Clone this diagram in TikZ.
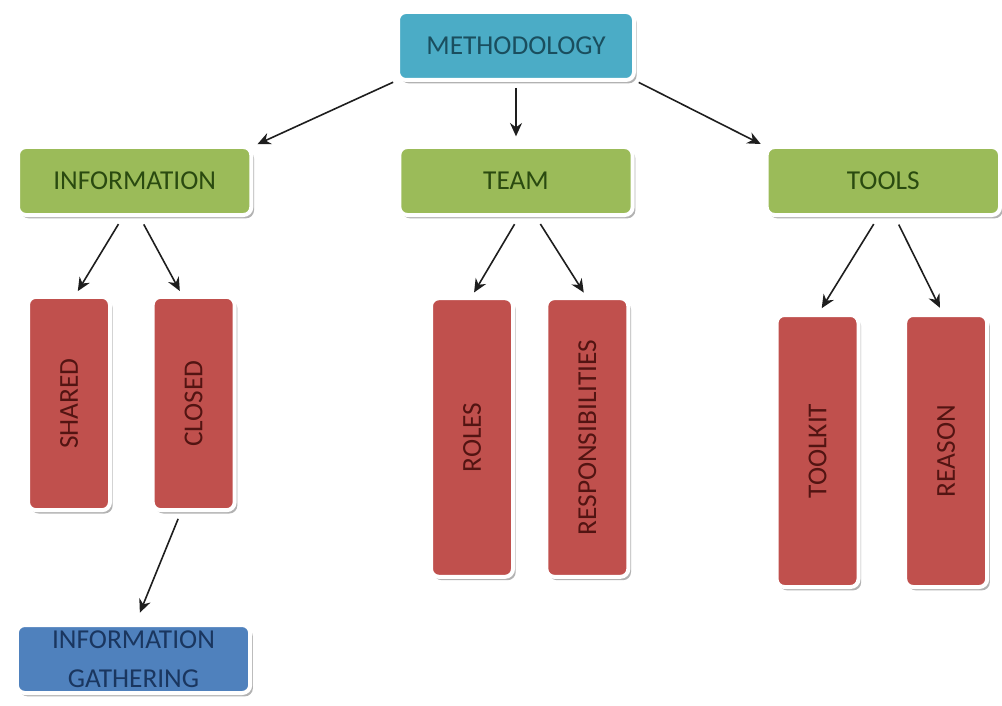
\documentclass[tikz,border=0pt]{standalone}
\usepackage{fontspec}
\setmainfont{Carlito}
\usepackage{graphicx}
\usetikzlibrary{arrows.meta, positioning, shadows}
\definecolor{rootfill}{HTML}{4BACC6}
\definecolor{roottext}{HTML}{1A4E5E}
\definecolor{groupfill}{HTML}{9BBB59}
\definecolor{grouptext}{HTML}{2A4A10}
\definecolor{leaffill}{HTML}{C0504D}
\definecolor{leaftext}{HTML}{521412}
\definecolor{gatherfill}{HTML}{4F81BD}
\definecolor{gathertext}{HTML}{1A365F}
\definecolor{linkgray}{HTML}{1E1E1E}

\begin{document}
\begin{tikzpicture}[
    x=0.75pt, y=-0.75pt,
    >=Stealth,
    every node/.style={inner sep=0pt, outer sep=0pt},
    boxbase/.style={
        draw=white, line width=3pt, rounded corners=6pt,
        drop shadow={shadow xshift=2pt, shadow yshift=-2.5pt, fill=black, opacity=0.3},
        font=\fontsize{20.5}{29}\selectfont, align=center
    },
    rootbox/.style={
        boxbase, fill=rootfill, text=roottext,
        minimum width=177pt, minimum height=51pt
    },
    groupbox/.style={
        boxbase, fill=groupfill, text=grouptext,
        minimum width=175pt, minimum height=51pt
    },
    leafbox/.style={
        boxbase, fill=leaffill, text=leaftext,
        minimum width=61.5pt
    },
    gatherbox/.style={
        boxbase, fill=gatherfill, text=gathertext,
        minimum width=175pt, minimum height=51pt
    },
    link/.style={line width=1.2pt, linkgray,
        arrows={-Stealth[length=10pt, width=9pt]}},
]
\useasboundingbox (0,0) rectangle (1002,706);

% === root ===
\node[rootbox] (meth) at (516,46) {METHODOLOGY};

% === second row ===
\node[groupbox, below=50.25pt of meth] (team) {TEAM};
\node[groupbox, left=111pt of team] (info) {INFORMATION};
\node[groupbox, right=100.5pt of team] (tools) {TOOLS};

% === leaves under INFORMATION ===
\node[leafbox, minimum height=160pt] (shared) at (69,403.5) {\rotatebox{90}{SHARED}};
\node[leafbox, minimum height=160pt, right=32pt of shared] (closed) {\rotatebox{90}{CLOSED}};

% === leaves under TEAM ===
\node[leafbox, minimum height=209pt] (roles) at (472,437.5) {\rotatebox{90}{ROLES}};
\node[leafbox, minimum height=209pt, right=25pt of roles] (resp) {\rotatebox{90}{RESPONSIBILITIES}};

% === leaves under TOOLS ===
\node[leafbox, minimum height=204pt] (toolkit) at (817.5,451) {\rotatebox{90}{TOOLKIT}};
\node[leafbox, minimum height=204pt, right=35pt of toolkit] (reason) {\rotatebox{90}{REASON}};

% === gathering ===
\node[gatherbox] (gather) at (133.5,659) {INFORMATION\\GATHERING};

% === Arrows ===
\draw[link, shorten <=4pt, shorten >=5pt] (meth.south west) -- (info.north east);
\draw[link, shorten <=6pt, shorten >=8pt] (meth.south) -- (team.north);
\draw[link, shorten <=4pt, shorten >=5pt] (meth.south east) -- (tools.north west);

\draw[link, shorten <=8pt, shorten >=5pt] ([xshift=-8pt]info.south) -- ([xshift=4pt]shared.north);
\draw[link, shorten <=8pt, shorten >=5pt] ([xshift=3pt]info.south) -- ([xshift=-8pt]closed.north);

\draw[link, shorten <=8pt, shorten >=5pt] ([xshift=3pt]team.south) -- ([xshift=-1pt]roles.north);
\draw[link, shorten <=8pt, shorten >=5pt] ([xshift=14pt]team.south) -- ([xshift=0pt]resp.north);

\draw[link, shorten <=8pt, shorten >=6pt] ([xshift=-3pt]tools.south) -- ([xshift=0pt]toolkit.north);
\draw[link, shorten <=8pt, shorten >=6pt] ([xshift=8pt]tools.south) -- ([xshift=-2pt]reason.north);

\draw[link, shorten <=7pt, shorten >=10pt] ([xshift=-9pt]closed.south) -- ([xshift=1pt]gather.north);

\end{tikzpicture}
\end{document}
